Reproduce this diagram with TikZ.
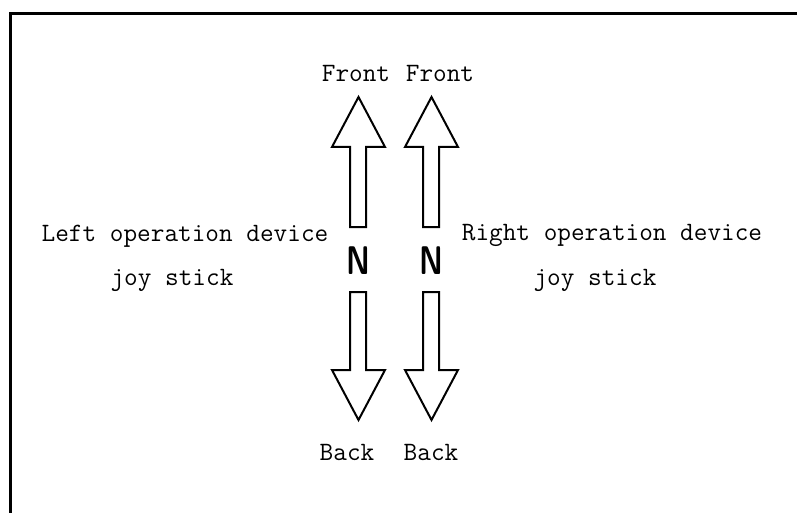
\documentclass[tikz,border=0pt]{standalone}
\usepackage{tikz}
\usetikzlibrary{positioning}

\begin{document}
\begin{tikzpicture}[
    x=1pt, y=-1pt,
    caption/.style={inner sep=0pt, anchor=base, font=\fontsize{26.5}{30}\selectfont\ttfamily},
    stick/.style={draw=black, line width=2pt, line join=miter, fill=white},
    neutral/.style={inner sep=0pt, font=\fontsize{40}{40}\selectfont\sffamily\bfseries},
]
\useasboundingbox (0,0) rectangle (797,513);

% Frame
\draw[line width=3pt] (10,515) -- (10,14) -- (799,14);

% Up arrows
\draw[stick] (350,227) -- (350,147) -- (332,147) -- (358.5,97) -- (385,147) -- (366,147) -- (366,227) -- cycle;
\draw[stick] (423,227) -- (423,147) -- (405,147) -- (431.5,97) -- (458,147) -- (439,147) -- (439,227) -- cycle;

% Down arrows
\draw[stick] (350,292) -- (350,370) -- (332,370) -- (358.5,420) -- (385,370) -- (366,370) -- (366,292) -- cycle;
\draw[stick] (423,292) -- (423,370) -- (405,370) -- (431.5,420) -- (458,370) -- (439,370) -- (439,292) -- cycle;

% Neutral marks
\node[neutral] (lneutral) at (358,261) {\scalebox{0.75}[1]{N}};
\node[neutral] (rneutral) at (431,261) {\scalebox{0.75}[1]{N}};

% Directions
\node[caption] (lfront) at (356,82) {Front};
\node[caption] (rfront) at (440,82) {Front};
\node[caption] (lback) at (347,460) {Back};
\node[caption] (rback) at (431,460) {Back};

% Devices
\node[caption] (ldev) at (185,241) {Left operation device};
\node[caption] (ljoy) at (172,285) {joy stick};
\node[caption] (rdev) at (612,240) {Right operation device};
\node[caption] (rjoy) at (595,285) {joy stick};

\end{tikzpicture}
\end{document}
